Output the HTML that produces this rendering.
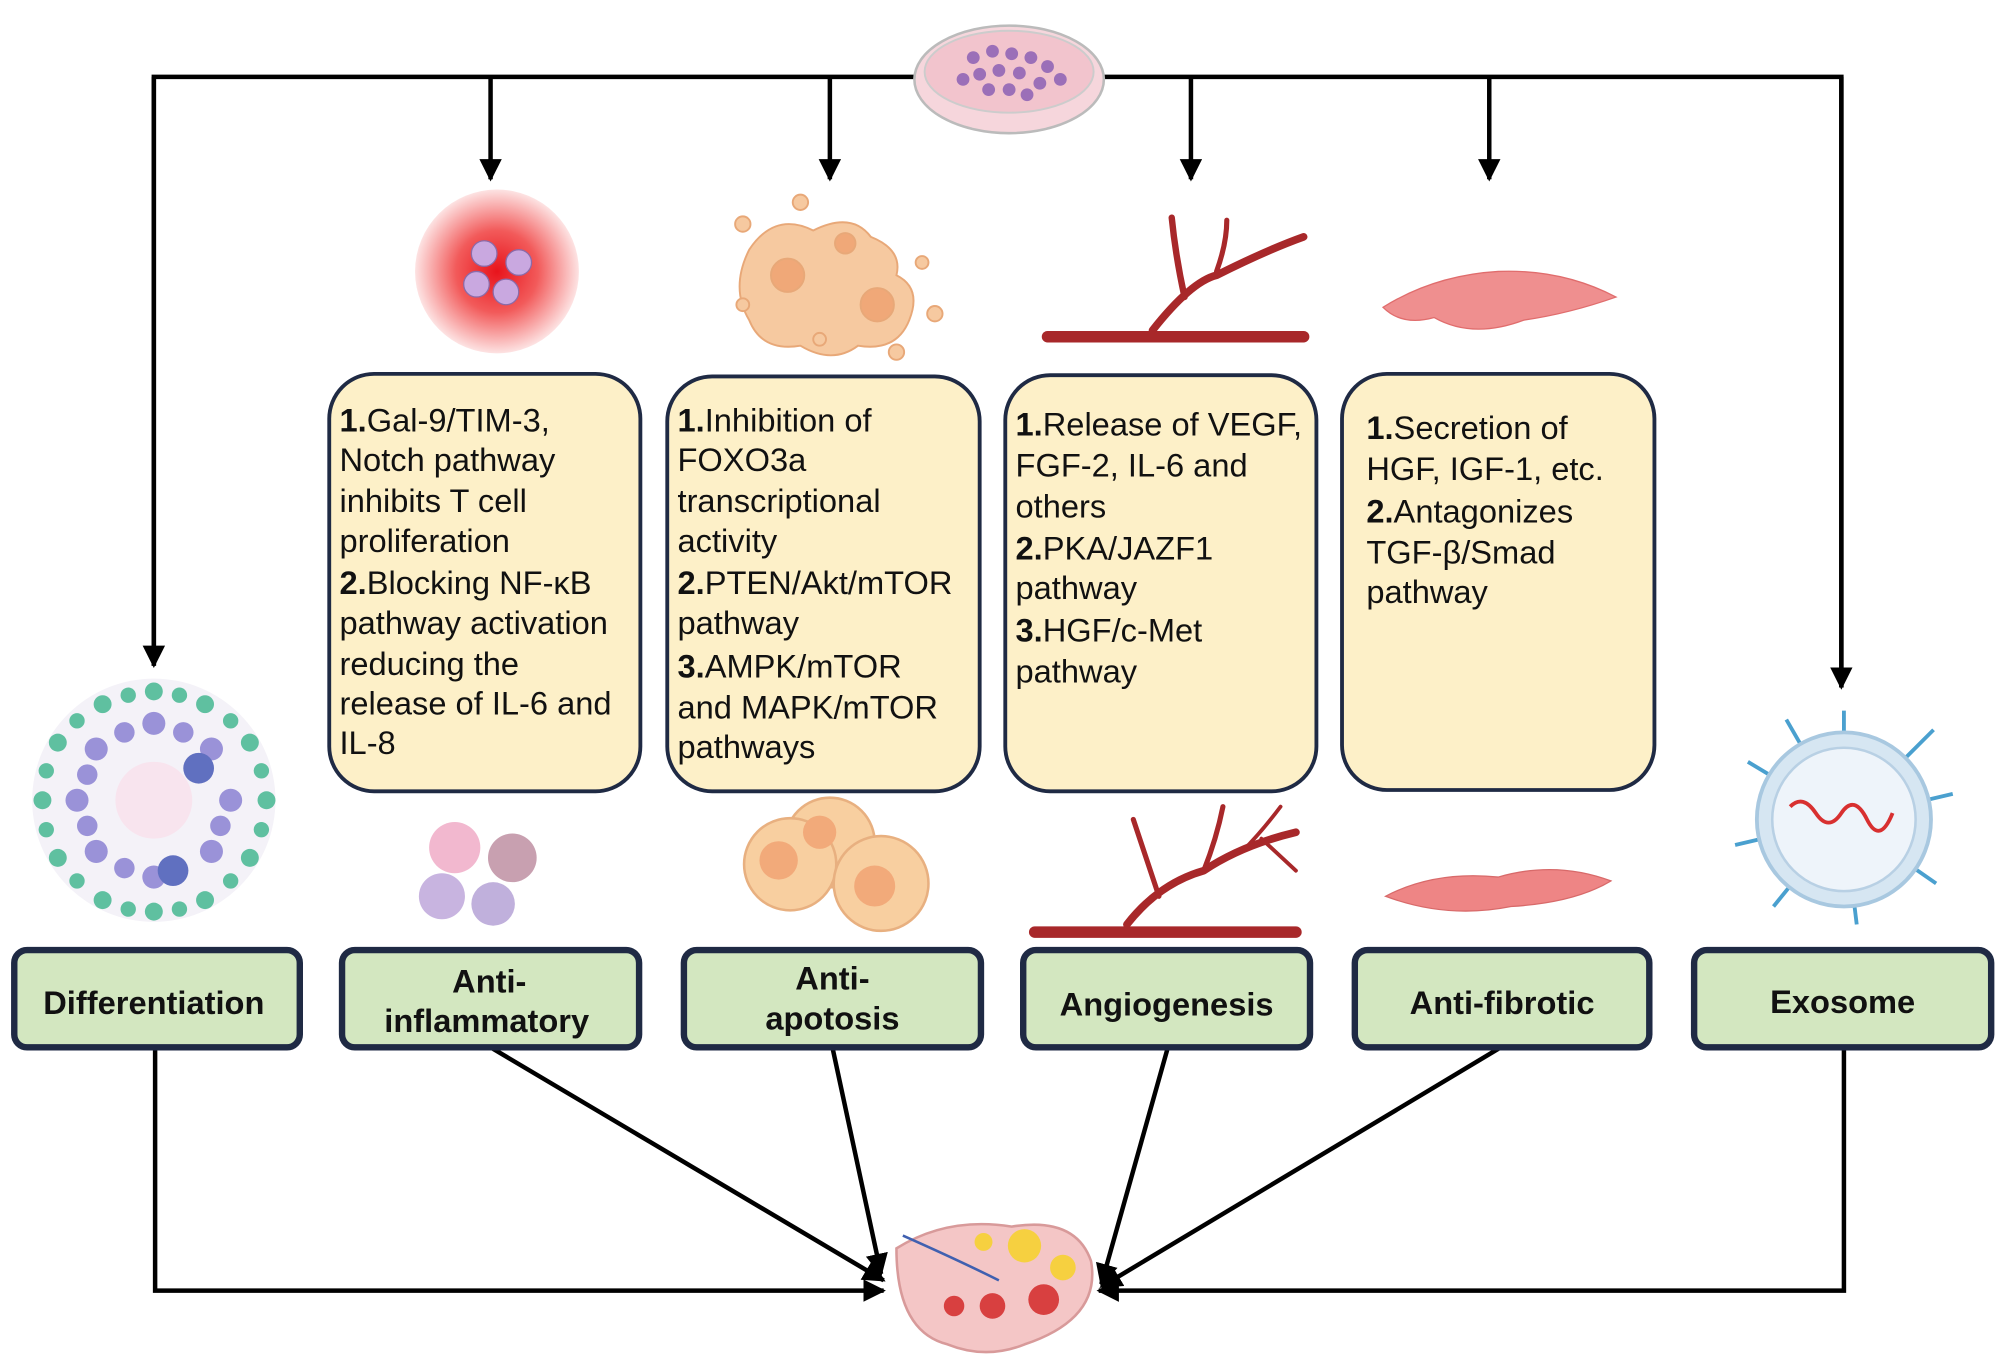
<!DOCTYPE html>
<html><head><meta charset="utf-8"><style>
html,body{margin:0;padding:0;background:#fff}
svg{display:block}
text{font-family:"Liberation Sans",Arial,sans-serif}
</style></head><body>
<svg width="2008" height="1370" viewBox="0 0 1568 1070" xmlns="http://www.w3.org/2000/svg">
<defs>
<radialGradient id="glow"><stop offset="0" stop-color="#e8141c"/><stop offset="0.5" stop-color="#f25a5a"/><stop offset="1" stop-color="#fde3e3"/></radialGradient>
<marker id="ah" viewBox="0 0 10 10" refX="9" refY="5" markerWidth="5" markerHeight="5" orient="auto"><path d="M0,0L10,5L0,10z" fill="#000"/></marker>
</defs>
<g stroke="#000" stroke-width="3.5" fill="none">
<path d="M120,520V60H1438V537" />
<path d="M120,60V520" marker-end="url(#ah)"/>
<path d="M1438,60V537" marker-end="url(#ah)"/>
<path d="M383,60V140" marker-end="url(#ah)"/>
<path d="M648,60V140" marker-end="url(#ah)"/>
<path d="M930,60V140" marker-end="url(#ah)"/>
<path d="M1163,60V140" marker-end="url(#ah)"/>
<path d="M121,818V1008H690" marker-end="url(#ah)"/>
<path d="M1440,818V1008H858" marker-end="url(#ah)"/>
<path d="M383,818L690,1000" marker-end="url(#ah)"/>
<path d="M650,818L688,995" marker-end="url(#ah)"/>
<path d="M912,818L860,1003" marker-end="url(#ah)"/>
<path d="M1172,818L860,1005" marker-end="url(#ah)"/>
</g>
<ellipse cx="788" cy="62" rx="74" ry="42" fill="#f6d6dc" stroke="#bbb" stroke-width="2"/>
<ellipse cx="788" cy="56" rx="66" ry="32" fill="#f2c4cd" stroke="#ccc" stroke-width="1.5"/>
<g fill="#9b6fb8">
<circle cx="760" cy="45" r="5"/><circle cx="775" cy="40" r="5"/><circle cx="790" cy="42" r="5"/><circle cx="805" cy="45" r="5"/><circle cx="818" cy="52" r="5"/><circle cx="765" cy="58" r="5"/><circle cx="780" cy="55" r="5"/><circle cx="796" cy="57" r="5"/><circle cx="812" cy="65" r="5"/><circle cx="772" cy="70" r="5"/><circle cx="788" cy="70" r="5"/><circle cx="802" cy="74" r="5"/><circle cx="752" cy="62" r="5"/><circle cx="828" cy="62" r="5"/></g>
<circle cx="388" cy="212" r="64" fill="url(#glow)"/>
<g fill="#c9a8e0" stroke="#8b6aa8"><circle cx="378" cy="198" r="10"/><circle cx="405" cy="205" r="10"/><circle cx="372" cy="222" r="10"/><circle cx="395" cy="228" r="10"/></g>
<g fill="#f6c9a0" stroke="#e8a878" stroke-width="1.5">
<path d="M585,195 q20,-30 50,-15 q30,-15 45,5 q25,10 20,30 q20,10 10,35 q-10,25 -40,20 q-20,15 -45,0 q-30,5 -40,-20 q-15,-25 0,-55z"/>
<circle cx="615" cy="215" r="13" fill="#f0a878"/><circle cx="685" cy="238" r="13" fill="#f0a878"/><circle cx="660" cy="190" r="8" fill="#f0a878"/>
<circle cx="580" cy="175" r="6"/><circle cx="625" cy="158" r="6"/><circle cx="720" cy="205" r="5"/><circle cx="730" cy="245" r="6"/><circle cx="580" cy="238" r="5"/><circle cx="700" cy="275" r="6"/><circle cx="640" cy="265" r="5"/></g>
<g stroke="#a8282a" fill="none" stroke-linecap="round">
<path d="M818,263H1018" stroke-width="9"/>
<path d="M900,258Q930,220 950,215Q990,195 1018,185" stroke-width="6"/>
<path d="M925,232Q918,200 915,170" stroke-width="5"/>
<path d="M950,212Q958,190 958,172" stroke-width="4"/></g>
<path d="M1080,240Q1120,215 1170,212Q1220,210 1262,232Q1225,245 1190,250Q1150,265 1120,248Q1095,255 1080,240z" fill="#ef8f8f" stroke="#e06d6d"/>
<g fill="#fdf0c8" stroke="#1f2a44" stroke-width="3">
<rect x="257" y="292" width="243" height="326" rx="35"/>
<rect x="521" y="294" width="244" height="324" rx="35"/>
<rect x="785" y="293" width="243" height="325" rx="35"/>
<rect x="1048" y="292" width="244" height="325" rx="35"/>
</g>
<g font-size="25.5" fill="#111">
<text x="265" y="337"><tspan font-weight="bold">1.</tspan>Gal-9/TIM-3,</text>
<text x="265" y="368">Notch pathway</text>
<text x="265" y="400">inhibits T cell</text>
<text x="265" y="431">proliferation</text>
<text x="265" y="464"><tspan font-weight="bold">2.</tspan>Blocking NF-κB</text>
<text x="265" y="495">pathway activation</text>
<text x="265" y="527">reducing the</text>
<text x="265" y="558">release of IL-6 and</text>
<text x="265" y="589">IL-8</text>
<text x="529" y="337"><tspan font-weight="bold">1.</tspan>Inhibition of</text>
<text x="529" y="368">FOXO3a</text>
<text x="529" y="400">transcriptional</text>
<text x="529" y="431">activity</text>
<text x="529" y="464"><tspan font-weight="bold">2.</tspan>PTEN/Akt/mTOR</text>
<text x="529" y="495">pathway</text>
<text x="529" y="529"><tspan font-weight="bold">3.</tspan>AMPK/mTOR</text>
<text x="529" y="561">and MAPK/mTOR</text>
<text x="529" y="592">pathways</text>
<text x="793" y="340"><tspan font-weight="bold">1.</tspan>Release of VEGF,</text>
<text x="793" y="372">FGF-2, IL-6 and</text>
<text x="793" y="404">others</text>
<text x="793" y="437"><tspan font-weight="bold">2.</tspan>PKA/JAZF1</text>
<text x="793" y="468">pathway</text>
<text x="793" y="501"><tspan font-weight="bold">3.</tspan>HGF/c-Met</text>
<text x="793" y="533">pathway</text>
<text x="1067" y="343"><tspan font-weight="bold">1.</tspan>Secretion of</text>
<text x="1067" y="375">HGF, IGF-1, etc.</text>
<text x="1067" y="408"><tspan font-weight="bold">2.</tspan>Antagonizes</text>
<text x="1067" y="440">TGF-β/Smad</text>
<text x="1067" y="471">pathway</text>
</g>
<circle cx="120" cy="625" r="95" fill="#f4f2f8"/>
<g fill="#5fc0a0"><circle cx="120" cy="540" r="7"/><circle cx="160" cy="550" r="7"/><circle cx="195" cy="580" r="7"/><circle cx="208" cy="625" r="7"/><circle cx="195" cy="670" r="7"/><circle cx="160" cy="703" r="7"/><circle cx="120" cy="712" r="7"/><circle cx="80" cy="703" r="7"/><circle cx="45" cy="670" r="7"/><circle cx="33" cy="625" r="7"/><circle cx="45" cy="580" r="7"/><circle cx="80" cy="550" r="7"/><circle cx="100" cy="543" r="6"/><circle cx="140" cy="543" r="6"/><circle cx="180" cy="563" r="6"/><circle cx="204" cy="602" r="6"/><circle cx="204" cy="648" r="6"/><circle cx="180" cy="688" r="6"/><circle cx="140" cy="710" r="6"/><circle cx="100" cy="710" r="6"/><circle cx="60" cy="688" r="6"/><circle cx="36" cy="648" r="6"/><circle cx="36" cy="602" r="6"/><circle cx="60" cy="563" r="6"/></g>
<g fill="#9a92d8"><circle cx="120" cy="565" r="9"/><circle cx="165" cy="585" r="9"/><circle cx="180" cy="625" r="9"/><circle cx="165" cy="665" r="9"/><circle cx="120" cy="685" r="9"/><circle cx="75" cy="665" r="9"/><circle cx="60" cy="625" r="9"/><circle cx="75" cy="585" r="9"/><circle cx="97" cy="572" r="8"/><circle cx="143" cy="572" r="8"/><circle cx="97" cy="678" r="8"/><circle cx="68" cy="605" r="8"/><circle cx="68" cy="645" r="8"/><circle cx="172" cy="645" r="8"/><circle cx="155" cy="600" r="12" fill="#6070c0"/><circle cx="135" cy="680" r="12" fill="#6070c0"/></g>
<circle cx="120" cy="625" r="30" fill="#f8e4ee"/>
<g><circle cx="355" cy="662" r="20" fill="#f2b8cf"/><circle cx="400" cy="670" r="19" fill="#c8a0b0"/><circle cx="345" cy="700" r="18" fill="#c8b4e0"/><circle cx="385" cy="706" r="17" fill="#c0b0dc"/></g>
<g fill="#f8cfa0" stroke="#e8b080" stroke-width="2"><circle cx="648" cy="658" r="35"/><circle cx="617" cy="675" r="36"/><circle cx="688" cy="690" r="37"/></g>
<g fill="#f2aa7a"><circle cx="640" cy="650" r="13"/><circle cx="608" cy="672" r="15"/><circle cx="683" cy="692" r="16"/></g>
<g stroke="#a8282a" fill="none" stroke-linecap="round">
<path d="M808,728H1012" stroke-width="9"/>
<path d="M880,722Q905,690 940,680Q970,660 1012,650" stroke-width="6"/>
<path d="M905,700Q895,670 885,640" stroke-width="4"/>
<path d="M940,680Q950,655 955,630" stroke-width="4"/>
<path d="M970,665Q985,650 1000,630" stroke-width="3"/>
<path d="M985,655L1012,680" stroke-width="3"/></g>
<path d="M1082,700Q1120,680 1170,685Q1215,672 1258,688Q1230,705 1180,708Q1130,718 1082,700z" fill="#ee8585" stroke="#d86a6a"/>
<g stroke="#4aa0cf" stroke-width="3">
<line x1="1440" y1="640" x2="1440" y2="555"/><line x1="1440" y1="640" x2="1510" y2="570"/><line x1="1440" y1="640" x2="1525" y2="620"/><line x1="1440" y1="640" x2="1512" y2="690"/><line x1="1440" y1="640" x2="1450" y2="722"/><line x1="1440" y1="640" x2="1385" y2="708"/><line x1="1440" y1="640" x2="1355" y2="660"/><line x1="1440" y1="640" x2="1365" y2="595"/><line x1="1440" y1="640" x2="1395" y2="562"/></g>
<circle cx="1440" cy="640" r="68" fill="#d6e6f2" stroke="#a8c8e0" stroke-width="3"/>
<circle cx="1440" cy="640" r="56" fill="#eef4fa" stroke="#b8d0e4" stroke-width="2"/>
<path d="M1398,630q10,-10 20,5t20,0t20,5t20,-5" stroke="#d83030" stroke-width="3" fill="none"/>
<g fill="#d3e7c0" stroke="#1f2a44" stroke-width="5">
<rect x="11" y="742" width="223" height="76" rx="10"/>
<rect x="267" y="742" width="232" height="76" rx="10"/>
<rect x="534" y="742" width="232" height="76" rx="10"/>
<rect x="799" y="742" width="224" height="76" rx="10"/>
<rect x="1058" y="742" width="230" height="76" rx="10"/>
<rect x="1323" y="742" width="232" height="76" rx="10"/>
</g>
<g font-size="25.5" font-weight="bold" fill="#111" text-anchor="middle">
<text x="120" y="792">Differentiation</text>
<text x="382" y="775">Anti-</text><text x="380" y="806">inflammatory</text>
<text x="650" y="773">Anti-</text><text x="650" y="804">apotosis</text>
<text x="911" y="793">Angiogenesis</text>
<text x="1173" y="792">Anti-fibrotic</text>
<text x="1439" y="791">Exosome</text>
</g>
<path d="M700,975Q740,950 790,958Q840,950 852,985Q860,1030 800,1050Q770,1062 740,1050Q700,1040 700,975z" fill="#f4c6c6" stroke="#d89a9a" stroke-width="2"/>
<path d="M705,965Q750,985 780,1000" stroke="#4060b0" stroke-width="2" fill="none"/>
<g fill="#f6d040"><circle cx="800" cy="973" r="13"/><circle cx="830" cy="990" r="10"/><circle cx="768" cy="970" r="7"/></g>
<g fill="#d84040"><circle cx="745" cy="1020" r="8"/><circle cx="775" cy="1020" r="10"/><circle cx="815" cy="1015" r="12"/></g>
</svg>
</body></html>
